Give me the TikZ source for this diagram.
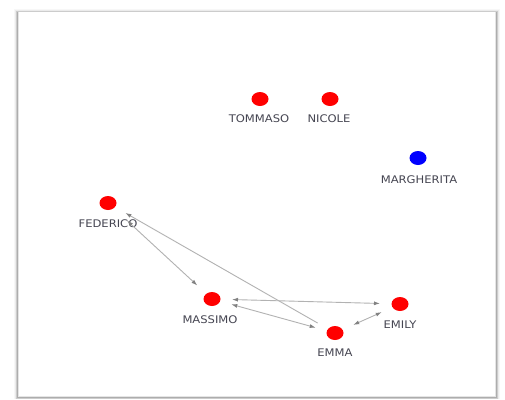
\documentclass[tikz,border=0pt]{standalone}
\usepackage{fontspec}
\setmainfont{DejaVu Sans}[FakeStretch=1.1]
\usetikzlibrary{arrows.meta,shapes.geometric}
\definecolor{dotred}{RGB}{255,0,0}
\definecolor{dotblue}{RGB}{0,0,255}
\definecolor{labgray}{RGB}{70,70,82}
\definecolor{edgegray}{RGB}{178,178,178}
\definecolor{tipgray}{RGB}{130,130,130}
\tikzset{
  dot/.style={ellipse, minimum width=17pt, minimum height=14pt, inner sep=0pt, fill=dotred, draw=none},
  bluedot/.style={dot, fill=dotblue},
  lab/.style={text=labgray, font=\fontsize{10.5}{12}\selectfont, inner sep=0pt},
  edge/.style={draw=edgegray, line width=0.9pt, shorten >=20pt, shorten <=20pt},
  tip/.style={-{Latex[length=6pt,width=4pt,fill=tipgray,color=tipgray]}},
  bitip/.style={{Latex[length=6pt,width=4pt,fill=tipgray,color=tipgray]}-{Latex[length=6pt,width=4pt,fill=tipgray,color=tipgray]}}
}
\begin{document}
\begin{tikzpicture}[x=1pt,y=-1pt]
\useasboundingbox (0,0) rectangle (505,399);
% frame with shadow
\fill[white] (0,0) rectangle (505,399);
\fill[black!3] (14,9) rectangle (500,399);
\fill[black!8] (15,10) rectangle (499,399);
\fill[black!20] (16,11) rectangle (498,399);
\fill[black!32] (17,11.5) rectangle (497,398);
\fill[black!10] (18,11.5) rectangle (496,397);
\fill[white] (19,12) rectangle (495,396);
% nodes
\node[dot] (tom) at (260,99) {};
\node[dot] (nic) at (330,99) {};
\node[bluedot] (mar) at (418,158) {};
\node[dot] (fed) at (108,203) {};
\node[dot] (mas) at (212,299) {};
\node[dot] (emi) at (400,304) {};
\node[dot] (emm) at (335,333) {};
% labels
\node[lab] (toml) at (259,119) {TOMMASO};
\node[lab] (nicl) at (329,119) {NICOLE};
\node[lab] (marl) at (419,180) {MARGHERITA};
\node[lab] (fedl) at (108,224) {FEDERICO};
\node[lab] (masl) at (210,320) {MASSIMO};
\node[lab] (emil) at (400,325) {EMILY};
\node[lab] (emml) at (335,353) {EMMA};
% edges
\draw[edge,bitip,shorten <=26pt] (fed.center) -- (mas.center);
\draw[edge,tip] (emm.center) -- (fed.center);
\draw[edge,bitip] (mas.center) -- (emi.center);
\draw[edge,bitip] (mas.center) -- (emm.center);
\draw[edge,bitip] (emm.center) -- (emi.center);
\end{tikzpicture}
\end{document}
